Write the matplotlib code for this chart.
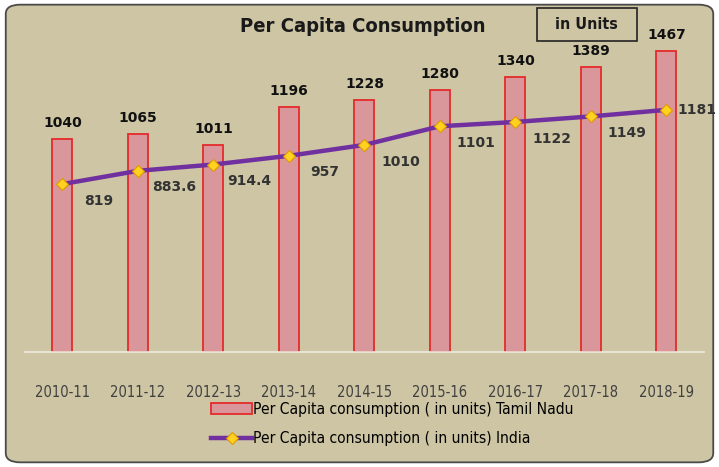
import numpy as np
import matplotlib
matplotlib.use('Agg')
import matplotlib.pyplot as plt
from matplotlib.patches import FancyBboxPatch, Rectangle

# data
years = ['2010-11', '2011-12', '2012-13', '2013-14', '2014-15',
         '2015-16', '2016-17', '2017-18', '2018-19']
tamil_nadu = [1040, 1065, 1011, 1196, 1228, 1280, 1340, 1389, 1467]
india = [819, 883.6, 914.4, 957, 1010, 1101, 1122, 1149, 1181]
india_labels = ['819', '883.6', '914.4', '957', '1010', '1101', '1122', '1149', '1181']

bg = '#CDC5A3'
bar_fill = '#D9979B'
bar_edge = '#E52B2B'
line_col = '#7030A0'

fig = plt.figure(figsize=(7.19, 4.67), dpi=100)
fig.patch.set_facecolor('white')

# rounded frame around the whole chart
frame = FancyBboxPatch((0.008, 0.01), 0.984, 0.98,
                       boxstyle='round,pad=0,rounding_size=0.02',
                       transform=fig.transFigure, facecolor=bg,
                       edgecolor='#4a4a4a', linewidth=1.3, zorder=-5)
fig.patches.append(frame)

ax = fig.add_axes([0.0344, 0.2463, 0.945, 0.7024])
ax.set_facecolor('none')
x = np.arange(len(years))

bars = ax.bar(x, tamil_nadu, width=0.265, color=bar_fill, edgecolor=bar_edge,
              linewidth=1.3, zorder=2, label='Per Capita consumption ( in units) Tamil Nadu')
line, = ax.plot(x, india, color=line_col, linewidth=3.2, marker='D', markersize=6.5,
                markerfacecolor='#FFD21F', markeredgecolor='#E09A00', markeredgewidth=0.8,
                zorder=3, label='Per Capita consumption ( in units) India')

ax.set_xlim(-0.5, len(years) - 0.5)
ax.set_ylim(0, 1600)
ax.set_yticks([])
ax.set_xticks(x)
ax.set_xticklabels(years, fontsize=10.5, color='#404040', fontstretch='condensed')
ax.tick_params(axis='x', length=0, pad=24)
for side in ['top', 'left', 'right']:
    ax.spines[side].set_visible(False)
ax.spines['bottom'].set_color('#EDEBE0')
ax.spines['bottom'].set_linewidth(1.2)

# bar values
for xi, v in zip(x, tamil_nadu):
    ax.annotate(str(v), (xi, v), xytext=(0, 6.5), textcoords='offset points',
                ha='center', va='bottom', fontsize=10, fontweight='bold', color='#111111')

# line values, below-right of each point, last one to the right
for i, (xi, v, lab) in enumerate(zip(x, india, india_labels)):
    if i == len(india) - 1:
        off = (22, 0)
    else:
        off = (26, -12)
    ax.annotate(lab, (xi, v), xytext=off, textcoords='offset points',
                ha='center', va='center', fontsize=10, fontweight='bold', color='#333333')

fig.text(0.505, 0.944, 'Per Capita Consumption', ha='center', va='center',
         fontsize=14.5, fontweight='bold', fontstretch='condensed', color='#1a1a1a')
fig.text(0.816, 0.947, 'in Units', ha='center', va='center',
         fontsize=11.5, fontweight='bold', fontstretch='condensed', color='#1a1a1a')
fig.patches.append(Rectangle((0.747, 0.912), 0.139, 0.071, transform=fig.transFigure,
                             facecolor='none', edgecolor='#222222', linewidth=1.2))

fig.legend(handles=[bars, line], loc='center', bbox_to_anchor=(0.546, 0.092), ncol=1,
           frameon=False, handlelength=2.6, handletextpad=0.1, labelspacing=0.95,
           prop={'size': 11.2, 'stretch': 'condensed'})

fig.savefig('out.png', dpi=100, facecolor=fig.get_facecolor())
